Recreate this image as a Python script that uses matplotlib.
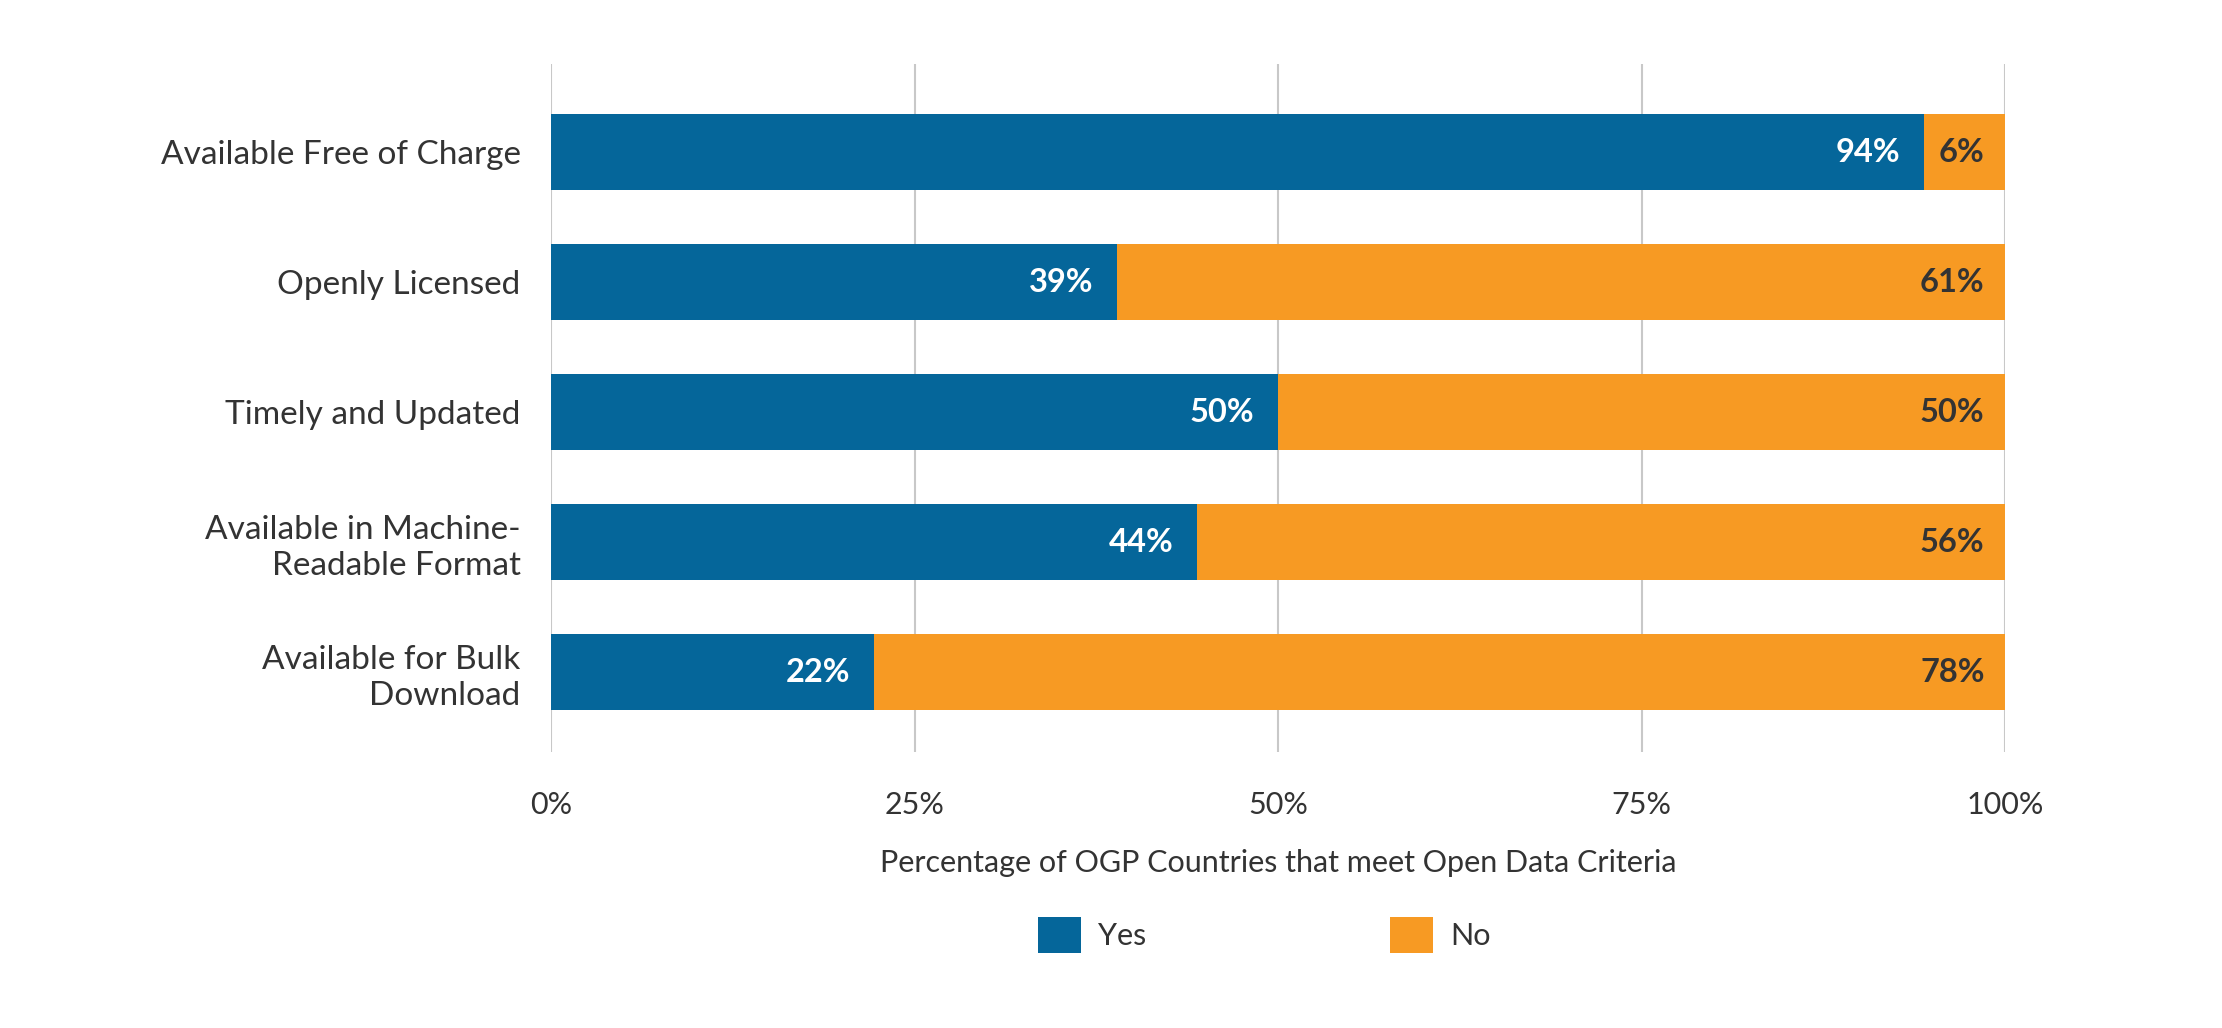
import numpy as np
import matplotlib.pyplot as plt
from matplotlib.patches import Patch

# data
criteria = ['Available Free of Charge', 'Openly Licensed', 'Timely and Updated',
            'Available in Machine-\nReadable Format', 'Available for Bulk\nDownload']
yes_pct = [94.4, 38.9, 50.0, 44.4, 22.2]
no_pct = [5.6, 61.1, 50.0, 55.6, 77.8]
x_ticks = [0, 25, 50, 75, 100]
x_ticklabels = ['0%', '25%', '50%', '75%', '100%']

blue = '#05669a'
orange = '#f79a23'
dark = '#333333'

plt.rcParams['font.family'] = ['Lato', 'DejaVu Sans']
plt.rcParams['font.size'] = 22

fig = plt.figure(figsize=(22.22, 10.28), dpi=100)
ax = fig.add_axes([0.248, 0.2685, 0.6545, 0.6692])

y = np.arange(len(criteria))
ax.barh(y, yes_pct, height=0.58, color=blue, zorder=2)
ax.barh(y, no_pct, left=yes_pct, height=0.58, color=orange, zorder=2)

# value labels, right aligned at the end of each segment
for i in range(len(criteria)):
    ax.annotate(f'{round(yes_pct[i])}%', (yes_pct[i], y[i]), xytext=(-17, 0),
                textcoords='offset points', ha='right', va='center',
                color='white', fontweight='bold', fontsize=23.5)
    ax.annotate(f'{round(no_pct[i])}%', (yes_pct[i] + no_pct[i], y[i]), xytext=(-15, 0),
                textcoords='offset points', ha='right', va='center',
                color=dark, fontweight='bold', fontsize=23.5)

ax.set_xlim(0, 100)
ax.set_ylim(4.615, -0.677)
ax.set_xticks(x_ticks)
ax.set_xticklabels(x_ticklabels)
ax.set_yticks(y)
ax.set_yticklabels(criteria, linespacing=1.25, fontsize=24)
ax.tick_params(axis='both', length=0, colors=dark)
ax.tick_params(axis='x', labelsize=22, pad=28)
ax.tick_params(axis='y', pad=22)
for s in ax.spines.values():
    s.set_visible(False)
ax.grid(axis='x', color='#c8c8c8', linewidth=1.5, zorder=0)
ax.set_axisbelow(True)
ax.set_xlabel('Percentage of OGP Countries that meet Open Data Criteria',
              color=dark, fontsize=22, labelpad=22)

handles = [Patch(facecolor=blue, label='Yes'), Patch(facecolor=orange, label='No')]
fig.legend(handles=handles, loc='center', bbox_to_anchor=(0.569, 0.0905), ncol=2,
           frameon=False, handlelength=1.4, handleheight=1.45, handletextpad=0.55,
           columnspacing=8.0, labelcolor=dark, fontsize=22)

fig.savefig('out.png', dpi=100)
